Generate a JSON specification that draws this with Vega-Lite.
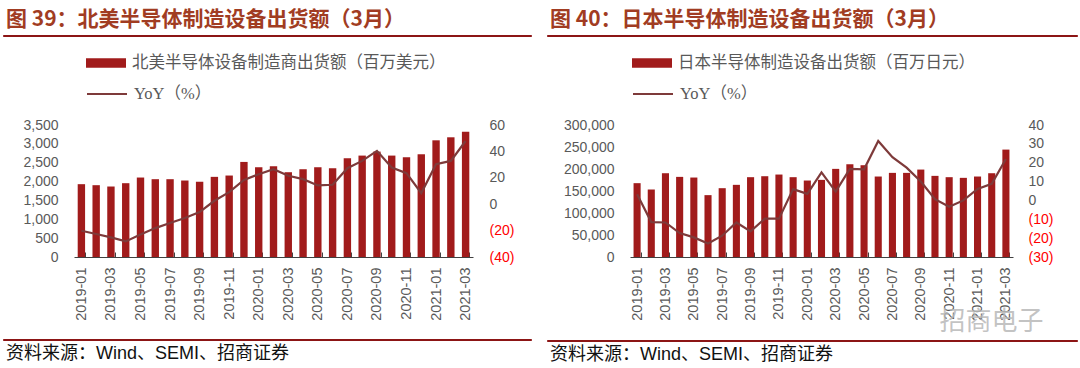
{
  "$schema": "https://vega.github.io/schema/vega-lite/v6.json",
  "background": "white",
  "padding": {"left": 2, "top": 8, "right": 0, "bottom": 0},
  "spacing": 14,
  "config": {"view": {"stroke": null}, "font": "Liberation Sans"},
  "resolve": {"scale": {"fill": "independent", "stroke": "independent"}, "legend": {"fill": "independent", "stroke": "independent"}},
  "datasets": {
    "na": [
      {"m": "2019-01", "v": 1931, "yoy": -20.1},
      {"m": "2019-02", "v": 1904, "yoy": -22.6},
      {"m": "2019-03", "v": 1869, "yoy": -25.1},
      {"m": "2019-04", "v": 1957, "yoy": -28.2},
      {"m": "2019-05", "v": 2107, "yoy": -23.0},
      {"m": "2019-06", "v": 2063, "yoy": -18.1},
      {"m": "2019-07", "v": 2063, "yoy": -14.3},
      {"m": "2019-08", "v": 2028, "yoy": -10.5},
      {"m": "2019-09", "v": 1992, "yoy": -6.0},
      {"m": "2019-10", "v": 2125, "yoy": 2.6},
      {"m": "2019-11", "v": 2160, "yoy": 9.1},
      {"m": "2019-12", "v": 2521, "yoy": 18.4},
      {"m": "2020-01", "v": 2380, "yoy": 22.7},
      {"m": "2020-02", "v": 2407, "yoy": 26.5},
      {"m": "2020-03", "v": 2248, "yoy": 21.5},
      {"m": "2020-04", "v": 2327, "yoy": 19.0},
      {"m": "2020-05", "v": 2380, "yoy": 14.2},
      {"m": "2020-06", "v": 2354, "yoy": 14.7},
      {"m": "2020-07", "v": 2618, "yoy": 27.3},
      {"m": "2020-08", "v": 2689, "yoy": 32.8},
      {"m": "2020-09", "v": 2795, "yoy": 40.4},
      {"m": "2020-10", "v": 2689, "yoy": 27.8},
      {"m": "2020-11", "v": 2645, "yoy": 23.5},
      {"m": "2020-12", "v": 2724, "yoy": 8.4},
      {"m": "2021-01", "v": 3094, "yoy": 30.3},
      {"m": "2021-02", "v": 3174, "yoy": 32.8},
      {"m": "2021-03", "v": 3324, "yoy": 47.9}
    ],
    "jp": [
      {"m": "2019-01", "v": 167800, "yoy": 3.3},
      {"m": "2019-02", "v": 153400, "yoy": -11.5},
      {"m": "2019-03", "v": 190400, "yoy": -11.7},
      {"m": "2019-04", "v": 182100, "yoy": -17.3},
      {"m": "2019-05", "v": 180600, "yoy": -19.6},
      {"m": "2019-06", "v": 140600, "yoy": -22.8},
      {"m": "2019-07", "v": 156400, "yoy": -18.7},
      {"m": "2019-08", "v": 164000, "yoy": -11.7},
      {"m": "2019-09", "v": 181400, "yoy": -16.4},
      {"m": "2019-10", "v": 183600, "yoy": -9.7},
      {"m": "2019-11", "v": 187400, "yoy": -9.7},
      {"m": "2019-12", "v": 181400, "yoy": 6.0},
      {"m": "2020-01", "v": 173800, "yoy": 3.5},
      {"m": "2020-02", "v": 175300, "yoy": 14.9},
      {"m": "2020-03", "v": 200300, "yoy": 4.7},
      {"m": "2020-04", "v": 210800, "yoy": 16.7},
      {"m": "2020-05", "v": 208600, "yoy": 16.5},
      {"m": "2020-06", "v": 182900, "yoy": 31.5},
      {"m": "2020-07", "v": 191200, "yoy": 22.9},
      {"m": "2020-08", "v": 191200, "yoy": 17.4},
      {"m": "2020-09", "v": 198700, "yoy": 10.0},
      {"m": "2020-10", "v": 184400, "yoy": 0.7},
      {"m": "2020-11", "v": 181400, "yoy": -3.4},
      {"m": "2020-12", "v": 179900, "yoy": 0.0},
      {"m": "2021-01", "v": 182900, "yoy": 6.1},
      {"m": "2021-02", "v": 190400, "yoy": 8.8},
      {"m": "2021-03", "v": 244100, "yoy": 22.0}
    ]
  },
  "hconcat": [
    {
      "spacing": 6,
      "resolve": {"scale": {"fill": "independent", "stroke": "independent"}, "legend": {"fill": "independent", "stroke": "independent"}},
      "vconcat": [
        {
          "width": 528, "height": 1,
          "view": {"stroke": "#8C1515", "strokeWidth": 1, "fill": "#8C1515"},
          "title": {"text": "图 39：北美半导体制造设备出货额（3月）", "anchor": "start", "font": "Noto Sans CJK SC", "fontSize": 21, "fontWeight": "bold", "color": "#A13C22", "offset": 5, "dx": 3},
          "data": {"values": []},
          "mark": "text"
        },
        {
          "spacing": 17,
          "resolve": {"scale": {"fill": "independent", "stroke": "independent"}, "legend": {"fill": "independent", "stroke": "independent"}},
          "vconcat": [
            {
              "spacing": 0,
              "resolve": {"scale": {"fill": "independent", "stroke": "independent"}, "legend": {"fill": "independent", "stroke": "independent"}},
              "hconcat": [
                {"width": 19, "height": 1, "data": {"values": []}, "mark": "text"},
                {
                  "width": 399, "height": 132,
                  "data": {"name": "na"},
                  "encoding": {
                    "x": {"field": "m", "type": "ordinal", "scale": {"paddingInner": 0.5, "paddingOuter": 0.25},
                      "axis": {"title": null, "values": ["2019-01","2019-03","2019-05","2019-07","2019-09","2019-11","2020-01","2020-03","2020-05","2020-07","2020-09","2020-11","2021-01","2021-03"],
                        "labelAngle": -90, "labelFontSize": 14.5, "labelColor": "#595959", "labelPadding": 15, "domainColor": "#404040", "tickColor": "#404040", "tickBand": "extent", "tickSize": -5}}
                  },
                  "layer": [
                    {
                      "mark": {"type": "bar"},
                      "encoding": {
                        "y": {"field": "v", "type": "quantitative", "scale": {"domain": [0, 3500], "nice": false},
                          "axis": {"title": null, "values": [0,500,1000,1500,2000,2500,3000,3500], "format": ",.0f", "domain": false, "ticks": false, "grid": false, "labelFontSize": 14, "labelColor": "#595959", "labelPadding": 16}},
                        "fill": {"datum": "北美半导体设备制造商出货额（百万美元）", "type": "nominal", "scale": {"range": ["#A11B1B"]},
                          "legend": {"orient": "none", "legendX": 12, "legendY": -82, "title": null, "padding": 0, "symbolType": "M-1,-0.24H1V0.24H-1Z", "symbolSize": 1600, "symbolStrokeWidth": 0, "labelFont": "Noto Sans CJK SC", "labelFontSize": 16.5, "labelColor": "#595959", "labelLimit": 600, "labelOffset": 6}}
                      }
                    },
                    {
                      "mark": {"type": "line", "strokeWidth": 2.2},
                      "encoding": {
                        "y": {"field": "yoy", "type": "quantitative", "scale": {"domain": [-40, 60], "nice": false, "zero": false},
                          "axis": {"title": null, "orient": "right", "values": [-40,-20,0,20,40,60], "labelExpr": "datum.value < 0 ? '(' + format(-datum.value, 'd') + ')' : format(datum.value, 'd')", "domain": false, "ticks": false, "grid": false, "labelFontSize": 14, "labelColor": {"condition": {"test": "datum.value < 0", "value": "#FF0000"}, "value": "#595959"}, "labelPadding": 16}},
                        "stroke": {"datum": "YoY（%）", "type": "nominal", "scale": {"range": ["#7E3A3A"]},
                          "legend": {"orient": "none", "legendX": 12, "legendY": -52, "title": null, "padding": 0, "symbolType": "M-1,0H1", "symbolSize": 1600, "symbolStrokeWidth": 2, "labelFont": "Liberation Serif, Noto Sans CJK SC", "labelFontSize": 16.5, "labelColor": "#595959", "labelLimit": 600, "labelOffset": 6}}
                      }
                    }
                  ],
                  "resolve": {"scale": {"y": "independent"}}
                }
              ]
            },
            {
              "width": 528, "height": 1,
              "view": {"stroke": "#8C1515", "strokeWidth": 1, "fill": "#8C1515"},
              "title": {"text": "资料来源：Wind、SEMI、招商证券", "orient": "bottom", "anchor": "start", "font": "Liberation Sans, Noto Sans CJK SC", "fontSize": 18, "fontWeight": "normal", "color": "#111111", "offset": 5, "dx": 3},
              "data": {"values": []},
              "mark": "text"
            }
          ]
        }
      ]
    },
    {
      "spacing": 6,
      "resolve": {"scale": {"fill": "independent", "stroke": "independent"}, "legend": {"fill": "independent", "stroke": "independent"}},
      "vconcat": [
        {
          "width": 530, "height": 1,
          "view": {"stroke": "#8C1515", "strokeWidth": 1, "fill": "#8C1515"},
          "title": {"text": "图 40：日本半导体制造设备出货额（3月）", "anchor": "start", "font": "Noto Sans CJK SC", "fontSize": 21, "fontWeight": "bold", "color": "#A13C22", "offset": 5, "dx": 3},
          "data": {"values": []},
          "mark": "text"
        },
        {
          "spacing": 5,
          "resolve": {"scale": {"fill": "independent", "stroke": "independent"}, "legend": {"fill": "independent", "stroke": "independent"}},
          "vconcat": [
            {
              "spacing": 0,
              "resolve": {"scale": {"fill": "independent", "stroke": "independent"}, "legend": {"fill": "independent", "stroke": "independent"}},
              "hconcat": [
                {"width": 16, "height": 1, "data": {"values": []}, "mark": "text"},
                {
                  "width": 383, "height": 132,
                  "data": {"name": "jp"},
                  "encoding": {
                    "x": {"field": "m", "type": "ordinal", "scale": {"paddingInner": 0.5, "paddingOuter": 0.25},
                      "axis": {"title": "招商电子", "titleFont": "Noto Sans CJK SC", "titleFontSize": 26, "titleFontWeight": "normal", "titleColor": "#b8b8b8", "titleOpacity": 0.85, "titleAnchor": "start", "titleAlign": "left", "titleBaseline": "middle", "titleX": 309, "titleY": 64,
                        "values": ["2019-01","2019-03","2019-05","2019-07","2019-09","2019-11","2020-01","2020-03","2020-05","2020-07","2020-09","2020-11","2021-01","2021-03"],
                        "labelAngle": -90, "labelFontSize": 14.5, "labelColor": "#595959", "labelPadding": 15, "domainColor": "#404040", "tickColor": "#404040", "tickBand": "extent", "tickSize": -5}}
                  },
                  "layer": [
                    {
                      "mark": {"type": "bar"},
                      "encoding": {
                        "y": {"field": "v", "type": "quantitative", "scale": {"domain": [0, 300000], "nice": false},
                          "axis": {"title": null, "values": [0,50000,100000,150000,200000,250000,300000], "format": ",.0f", "domain": false, "ticks": false, "grid": false, "labelFontSize": 14, "labelColor": "#595959", "labelPadding": 16}},
                        "fill": {"datum": "日本半导体制造设备出货额（百万日元）", "type": "nominal", "scale": {"range": ["#A11B1B"]},
                          "legend": {"orient": "none", "legendX": 2, "legendY": -82, "title": null, "padding": 0, "symbolType": "M-1,-0.24H1V0.24H-1Z", "symbolSize": 1600, "symbolStrokeWidth": 0, "labelFont": "Noto Sans CJK SC", "labelFontSize": 16.5, "labelColor": "#595959", "labelLimit": 600, "labelOffset": 6}}
                      }
                    },
                    {
                      "mark": {"type": "line", "strokeWidth": 2.2},
                      "encoding": {
                        "y": {"field": "yoy", "type": "quantitative", "scale": {"domain": [-30, 40], "nice": false, "zero": false},
                          "axis": {"title": null, "orient": "right", "values": [-30,-20,-10,0,10,20,30,40], "labelExpr": "datum.value < 0 ? '(' + format(-datum.value, 'd') + ')' : format(datum.value, 'd')", "domain": false, "ticks": false, "grid": false, "labelFontSize": 14, "labelColor": {"condition": {"test": "datum.value < 0", "value": "#FF0000"}, "value": "#595959"}, "labelPadding": 15}},
                        "stroke": {"datum": "YoY（%）", "type": "nominal", "scale": {"range": ["#7E3A3A"]},
                          "legend": {"orient": "none", "legendX": 2, "legendY": -52, "title": null, "padding": 0, "symbolType": "M-1,0H1", "symbolSize": 1600, "symbolStrokeWidth": 2, "labelFont": "Liberation Serif, Noto Sans CJK SC", "labelFontSize": 16.5, "labelColor": "#595959", "labelLimit": 600, "labelOffset": 6}}
                      }
                    }
                  ],
                  "resolve": {"scale": {"y": "independent"}}
                }
              ]
            },
            {
              "width": 530, "height": 1,
              "view": {"stroke": "#8C1515", "strokeWidth": 1, "fill": "#8C1515"},
              "title": {"text": "资料来源：Wind、SEMI、招商证券", "orient": "bottom", "anchor": "start", "font": "Liberation Sans, Noto Sans CJK SC", "fontSize": 18, "fontWeight": "normal", "color": "#111111", "offset": 5, "dx": 3},
              "data": {"values": []},
              "mark": "text"
            }
          ]
        }
      ]
    }
  ]
}
